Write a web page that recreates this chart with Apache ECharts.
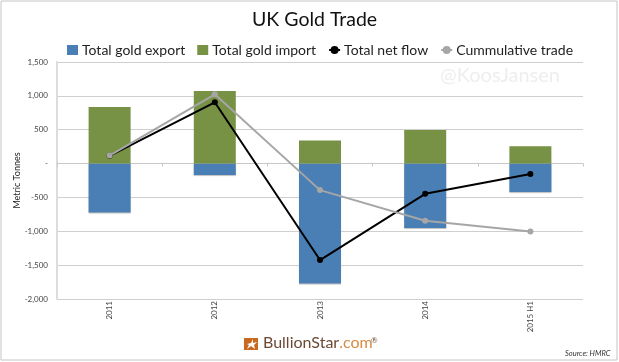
<!DOCTYPE html>
<html>
<head>
<meta charset="utf-8">
<style>
html, body { margin: 0; padding: 0; background: #fff; }
#chart { width: 619px; height: 362px; }
</style>
<script src="https://cdn.jsdelivr.net/npm/echarts@6/dist/echarts.min.js"></script>
</head>
<body>
<div id="chart"></div>
<script>
var years = ['2011', '2012', '2013', '2014', '2015 H1'];
var goldExport = [-722, -170, -1770, -953, -420];
var goldImport = [836, 1072, 340, 497, 257];
var netFlow = [114, 905, -1425, -447, -155];
var cumulative = [118, 1023, -392, -845, -1003];

var font = 'Lato, "Noto Sans", sans-serif';
var chart = echarts.init(document.getElementById('chart'));

function tickLabel(v) {
    if (v === 0) return '-';
    return echarts.format.addCommas(v);
}

chart.setOption({
    animation: false,
    backgroundColor: '#fff',
    title: {
        text: 'UK Gold Trade',
        left: 247,
        top: 5,
        textStyle: { fontFamily: font, fontWeight: 'normal', fontSize: 19.5, color: '#111' }
    },
    legend: {
        top: 38,
        left: 62,
        itemWidth: 11,
        itemHeight: 10,
        itemGap: 12,
        textStyle: { fontFamily: font, fontSize: 14, color: '#222', padding: [0, 0, 0, -1] },
        data: [
            { name: 'Total gold export', icon: 'rect' },
            { name: 'Total gold import', icon: 'rect' },
            'Total net flow',
            'Cummulative trade'
        ]
    },
    grid: { left: 57, right: 36, top: 62, bottom: 63, outerBoundsMode: 'none' },
    xAxis: {
        type: 'category',
        data: years,
        axisLine: { onZero: true, lineStyle: { color: '#c8c8c8', width: 1 } },
        axisTick: { show: true, length: 3, inside: false, lineStyle: { color: '#c8c8c8' } },
        axisLabel: {
            position: 'bottom',
            rotate: 90,
            fontFamily: font,
            fontSize: 8,
            color: '#444',
            margin: 2
        }
    },
    yAxis: {
        type: 'value',
        min: -2000,
        max: 1500,
        interval: 500,
        name: 'Metric Tonnes',
        nameLocation: 'middle',
        nameRotate: 90,
        nameGap: 35,
        nameMoveOverlap: false,
        nameTextStyle: { fontFamily: font, fontSize: 9, color: '#222' },
        axisLine: { show: true, lineStyle: { color: '#dcdcdc', width: 2 } },
        axisTick: { show: false },
        axisLabel: { fontFamily: font, fontSize: 8, color: '#444', margin: 9, formatter: tickLabel },
        splitLine: { lineStyle: { color: '#cfcfcf', width: 1 } }
    },
    series: [
        {
            name: 'Total gold export',
            type: 'bar',
            stack: 'trade',
            barWidth: 42,
            itemStyle: { color: '#4a7fb5', shadowColor: 'rgba(0,0,0,0.25)', shadowBlur: 1, shadowOffsetY: 1 },
            data: goldExport
        },
        {
            name: 'Total gold import',
            type: 'bar',
            stack: 'trade',
            barWidth: 42,
            itemStyle: { color: '#779145' },
            data: goldImport
        },
        {
            name: 'Total net flow',
            type: 'line',
            symbol: 'circle',
            symbolSize: 6,
            itemStyle: { color: '#000' },
            lineStyle: { color: '#000', width: 2 },
            data: netFlow
        },
        {
            name: 'Cummulative trade',
            type: 'line',
            symbol: 'circle',
            symbolSize: 6,
            itemStyle: { color: '#a6a6a6' },
            lineStyle: { color: '#a6a6a6', width: 2 },
            data: cumulative
        }
    ],
    graphic: [
        { type: 'rect', z: -1, shape: { x: 1, y: 1, width: 616, height: 359 },
          style: { fill: 'none', stroke: '#c4c4c4', lineWidth: 1 } },
        { type: 'text', x: 440, y: 66, z: 1,
          style: { text: '@KoosJansen', font: '20px ' + font, fill: '#eeeeee' } },
        { type: 'rect', shape: { x: 244, y: 338, width: 14, height: 12 }, style: { fill: '#c9691f' } },
        { type: 'polygon', shape: { points: [[247, 344], [251, 343], [253, 339], [253, 343], [257, 342], [254, 345], [255, 349], [251, 346], [247, 349], [249, 345]] },
          style: { fill: '#fff' } },
        { type: 'text', x: 263, y: 335,
          style: {
              text: '{a|BullionStar}{b|.com}',
              rich: {
                  a: { font: '16px ' + font, fill: '#6b4a35' },
                  b: { font: '16px ' + font, fill: '#d98a45' }
              }
          } },
        { type: 'text', x: 371, y: 336,
          style: { text: '®', font: '8px ' + font, fill: '#6b4a35' } },
        { type: 'text', x: 565, y: 350,
          style: { text: 'Source: HMRC', font: 'italic 7.5px ' + font, fill: '#333' } }
    ]
});
</script>
</body>
</html>
